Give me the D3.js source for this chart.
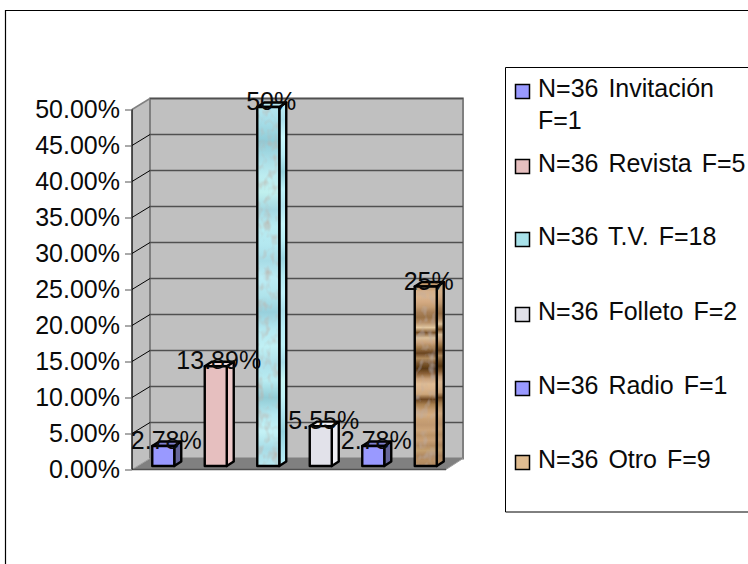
<!DOCTYPE html>
<html><head><meta charset="utf-8">
<script src="https://cdn.jsdelivr.net/npm/d3@7"></script>
<style>html,body{margin:0;padding:0;background:#fff}svg{display:block}text{font-family:"Liberation Sans",Arial,sans-serif;fill:#0a0a0a}</style>
</head><body><svg id="c" width="748" height="564"></svg>
<script>
const categories = ["Invitación","Revista","T.V.","Folleto","Radio","Otro"];
const frequencies = [1,5,18,2,1,9];
const percentValues = [2.78,13.89,50,5.55,2.78,25];
const dataLabels = ["2.78%","13.89%","50%","5.55%","2.78%","25%"];
const tickValues = [0,5,10,15,20,25,30,35,40,45,50];
const frontColors = ["#9999ff","#e6bfbf","url(#tvF)","#e2e2ea","#9999ff","url(#otroF)"];
const sideColors = ["#666699","#eecaca","url(#tvS)","#eeeef2","#666699","url(#otroS)"];
const topColors = ["#8080d0","#f2d8d8","#b5e6ee","#f0f0f4","#8080d0","#c49a6c"];
const swatchColors = ["#9999ff","#e6bfbf","#a8e2ea","#e2e2ea","#9999ff","#e0bc90"];
const legendLines = [["N=36 Invitación","F=1"],["N=36 Revista F=5"],["N=36 T.V. F=18"],["N=36 Folleto F=2"],["N=36 Radio F=1"],["N=36 Otro F=9"]];
const tvBands = ["#b4e6f0","#a4dce6","#90ccd8","#a8dde6","#bcecf0","#c0f0ee","#a4d8e2","#b8ecf2","#b4e8f0","#a8dce6","#bcecf4","#b0e4ec","#98d0dc","#b4e8f0","#c0f0f4","#aee0ea","#b8ecf2","#92ccd6","#b4e8f0","#c4f2f6","#a8dce6","#b8e8f0"];
const otroBands = ["#c09a6c","#d8b088","#dab48c","#d4aa82","#c49c72","#a88058","#9a7248","#b48c62","#e4c8a0","#7a5228","#dcc09a","#c8a078","#a07848","#6a4420","#b08a5c","#7c5830","#5c3a14","#8c6238","#c8a078","#e0bc94","#dab48c","#cda67a","#6e4822","#a88050","#c49c70","#d4ac80","#c8a074","#c09870","#cca478","#bc9468","#c8a076","#b48c62","#c4a070","#b08860","#b89064","#ac8458"];

const svg = d3.select("#c");
const font = 25;
const yFront = d3.scaleLinear().domain([0,50]).range([469.5,109.5]);
const yBack = d3.scaleLinear().domain([0,50]).range([458.5,98.5]);
const yBar = d3.scaleLinear().domain([0,50]).range([466,107]);
const x = d3.scaleBand().domain(categories).range([137,452]).paddingInner(0.58).paddingOuter(0.29);
const barW = 22, dx = 7, dy = 4.5;
const axisX = 132, backL = 150, backR = 463, frontR = 446;

const defs = svg.append("defs");
function grad(id, bands, k){
  const g = defs.append("linearGradient").attr("id",id).attr("x1",0).attr("x2",0).attr("y1",0).attr("y2",1);
  bands.forEach((c,i)=>g.append("stop").attr("offset",i/(bands.length-1)).attr("stop-color",d3.color(c).brighter(k).formatHex()));
}
grad("tvF",tvBands,0); grad("tvS",tvBands.slice().reverse(),0.08);
grad("otroF",otroBands,0); grad("otroS",otroBands,-0.1);
const f = defs.append("filter").attr("id","mottle").attr("x",0).attr("y",0).attr("width",1).attr("height",1);
f.append("feTurbulence").attr("type","fractalNoise").attr("baseFrequency","0.14 0.1").attr("numOctaves",2).attr("seed",4).attr("result","n");
f.append("feColorMatrix").attr("in","n").attr("type","matrix").attr("values","0 0 0 0 0.5  0 0 0 0 0.42  0 0 0 0 0.36  1.6 0 0 0 -0.75").attr("result","a");
f.append("feComposite").attr("in","a").attr("in2","SourceGraphic").attr("operator","in").attr("result","b");
f.append("feMerge").call(m=>{m.append("feMergeNode").attr("in","SourceGraphic");m.append("feMergeNode").attr("in","b");});

svg.append("path").attr("d","M5.5,564V10.5H748").attr("fill","none").attr("stroke","#000").attr("stroke-width",1.2);

const poly = (pts)=>"M"+pts.map(p=>p.join(",")).join("L")+"Z";
svg.append("path").attr("d",poly([[backL,yBack(50)],[backR,yBack(50)],[backR,yBack(0)],[backL,yBack(0)]])).attr("fill","#c0c0c0").attr("stroke","#808080").attr("stroke-width",2);
svg.append("path").attr("d",poly([[axisX,yFront(50)],[backL,yBack(50)],[backL,yBack(0)],[axisX,yFront(0)]])).attr("fill","#c0c0c0");
svg.append("path").attr("d",poly([[axisX,yFront(0)],[backL,yBack(0)],[backR,yBack(0)],[frontR,yFront(0)]])).attr("fill","#808080");
svg.append("line").attr("x1",backL).attr("x2",backL).attr("y1",yBack(50)).attr("y2",yBack(0)).attr("stroke","#808080").attr("stroke-width",2);
svg.append("line").attr("x1",axisX).attr("x2",backL).attr("y1",yFront(50)).attr("y2",yBack(50)).attr("stroke","#808080").attr("stroke-width",1.5);

tickValues.filter(t=>t>0).forEach(t=>{
  svg.append("line").attr("x1",backL).attr("x2",backR).attr("y1",yBack(t)).attr("y2",yBack(t)).attr("stroke","#505050").attr("stroke-width",1.3);
  if(t<50) svg.append("line").attr("x1",axisX).attr("x2",backL).attr("y1",yFront(t)).attr("y2",yBack(t)).attr("stroke","#000").attr("stroke-width",1);
});
svg.append("line").attr("x1",axisX).attr("x2",backL).attr("y1",yFront(0)).attr("y2",yBack(0)).attr("stroke","#a0a0a0").attr("stroke-width",1);
svg.append("line").attr("x1",axisX).attr("x2",frontR).attr("y1",yFront(0)).attr("y2",yFront(0)).attr("stroke","#505050").attr("stroke-width",1.5);
svg.append("line").attr("x1",frontR).attr("x2",backR).attr("y1",yFront(0)).attr("y2",yBack(0)).attr("stroke","#a0a0a0").attr("stroke-width",1);
svg.append("line").attr("x1",axisX).attr("x2",axisX).attr("y1",yFront(50)).attr("y2",yFront(0)).attr("stroke","#000").attr("stroke-width",1.3);

const axis = d3.axisLeft(yFront).tickValues(tickValues).tickSize(7).tickPadding(5).tickFormat(d=>d3.format(".2f")(d)+"%");
const ag = svg.append("g").attr("transform",`translate(${axisX},0)`).call(axis);
ag.select(".domain").remove();
ag.selectAll("line").attr("stroke","#555").attr("stroke-width",1);
ag.selectAll("text").attr("font-size",font).attr("dy","0.32em");

const bars = svg.append("g").selectAll("g").data(categories).join("g");
const st = s=>s.attr("stroke","#000").attr("stroke-width",2.4).attr("stroke-linejoin","round");
bars.each(function(c,i){
  const g = d3.select(this), l = x(c)+ (x.bandwidth()-barW)/2, r = l+barW, b = yBar(0), t = yBar(percentValues[i]);
  const textured = String(frontColors[i]).startsWith("url");
  g.append("path").attr("d",poly([[r,t],[r+dx,t-dy],[r+dx,b-dy],[r,b]])).attr("fill",sideColors[i]).call(st);
  g.append("path").attr("d",poly([[l,t],[l+dx,t-dy],[r+dx,t-dy],[r,t]])).attr("fill",topColors[i]).call(st);
  const fr = g.append("rect").attr("x",l).attr("y",t).attr("width",barW).attr("height",b-t).attr("fill",frontColors[i]);
  if(textured) fr.attr("filter","url(#mottle)");
  g.append("rect").attr("x",l).attr("y",t).attr("width",barW).attr("height",b-t).attr("fill","none").call(st);
});
svg.append("g").selectAll("text").data(dataLabels).join("text")
  .attr("x",(d,i)=>x(categories[i])+x.bandwidth()/2+3).attr("y",(d,i)=>yBar(percentValues[i])+3)
  .attr("text-anchor","middle").attr("font-size",font).text(d=>d);

svg.append("path").attr("d","M748,67.5H505.5V512H748").attr("fill","none").attr("stroke","#000").attr("stroke-width",1);
const rowY = [97,172,245,320,394,468];
legendLines.forEach((ls,i)=>{
  svg.append("rect").attr("x",515.5).attr("y",rowY[i]-12.5).attr("width",14).attr("height",14).attr("fill",swatchColors[i]).attr("stroke","#000").attr("stroke-width",1.5);
  ls.forEach((s,j)=>svg.append("text").attr("x",538).attr("y",rowY[i]+j*32).attr("font-size",font).attr("word-spacing",3).text(s));
});
</script></body></html>
